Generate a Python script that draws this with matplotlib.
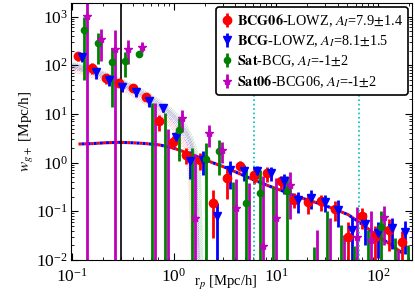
import numpy as np
import matplotlib
matplotlib.use("Agg")
import matplotlib.pyplot as plt

plt.rcParams["font.family"] = "serif"
plt.rcParams["font.serif"] = ["Liberation Serif", "DejaVu Serif"]
plt.rcParams["mathtext.fontset"] = "stix"

# bin centres [Mpc/h]
rp = [0.116, 0.158, 0.214, 0.290, 0.393, 0.532, 0.721, 0.977, 1.32, 1.80,
      2.43, 3.30, 4.47, 6.05, 8.20, 11.1, 15.1, 20.4, 27.7, 37.5,
      50.8, 68.9, 93.3, 126.5, 171.4]

# BCG06-LOWZ
w_red = [156, 87, 54, 43, 34, 22, 7.0, 2.7, 1.45, 1.14,
         0.148, 0.48, 0.86, 0.56, 0.60, 0.41, 0.174, 0.158, 0.160, 0.112,
         0.030, 0.081, 0.030, 0.042, 0.023]
e_red = [35, 22, 12, 8, 5, 4, 2.5, 0.8, 0.5, 0.45,
         0.12, 0.3, 0.2, 0.2, 0.2, 0.13, 0.06, 0.07, 0.06, 0.05,
         0.03, 0.037, 0.02, 0.027, 0.016]
# BCG-LOWZ
w_blue = [147, 71, 50, 35, 27.5, 18.8, 13.2, 3.4, 1.1, 1.15,
          0.078, 0.69, 0.66, 0.66, 0.61, 0.41, 0.17, 0.19, 0.158, 0.107,
          0.042, 0.055, 0.036, 0.045, 0.038]
e_blue = [30, 20, 13, 7, 5, 5, 2.5, 0.9, 0.65, 0.6,
          0.07, 0.4, 0.25, 0.2, 0.2, 0.18, 0.08, 0.08, 0.06, 0.06,
          0.035, 0.035, 0.025, 0.028, 0.025]
# Sat-BCG
w_green = [520, 285, 119, 122, 171, -3, -2, 4.7, -0.5, 1.2,
           1.75, -0.1, 0.148, 0.24, -0.05, 0.26, np.nan, 0.006, -0.01, -0.01,
           0.005, -0.01, 0.048, 0.008, 0.005]
e_green = [470, 180, 105, 65, 20, 20, 12.5, 3.6, 2.5, 1.3,
           1.2, 0.5, 0.6, 0.47, 0.37, 0.26, np.nan, 0.012, 0.11, 0.062,
           0.014, 0.052, 0.055, 0.02, 0.015]
# Sat06-BCG06
w_mag = [1030, 343, 214, 214, 242, -2, -1, 8.2, 0.072, 4.0,
         1.8, 0.117, -0.05, 0.019, 0.072, 0.35, np.nan, 0.005, -0.01, -0.01,
         0.030, 0.026, 0.075, 0.004, np.nan]
e_mag = [1500, 220, 320, 110, 55, 18.5, 6, 4, 1.4, 1.9,
         0.8, 0.35, 0.43, 0.5, 0.4, 0.28, np.nan, 0.037, 0.082, 0.043,
         0.09, 0.075, 0.055, 0.012, np.nan]

# small-scale model bands
rp_1h = [0.1, 0.15, 0.2, 0.3, 0.45, 0.65, 0.9, 1.1, 1.3, 1.45, 1.6, 1.75, 1.9, 2.05]
red_1h = [85, 66, 54, 37, 23, 13.5, 7, 4.2, 2.2, 0.6, 1e-3, 1e-3, 1e-3, 1e-3]
blue_1h = [97, 76, 62, 43, 28, 17, 10, 6.3, 3.8, 2.2, 1.0, 1e-3, 1e-3, 1e-3]
green_1h = [103, 82, 67, 47, 31, 19.5, 12, 8, 5, 3.2, 1.8, 0.8, 1e-3, 1e-3]
mag_1h = [100, 80, 65, 45, 30, 18.5, 11, 7, 4.4, 2.6, 1.3, 1e-3, 1e-3, 1e-3]

# large-scale model
w_2h = [2.4, 2.45, 2.55, 2.6, 2.55, 2.45, 2.3, 2.0, 1.6, 1.25,
        0.98, 0.77, 0.58, 0.44, 0.34, 0.27, 0.21, 0.17, 0.14, 0.11,
        0.085, 0.055, 0.034, 0.022, 0.014]

fig = plt.figure(figsize=(4.15, 2.97), dpi=100)
ax = fig.add_axes([0.171, 0.125, 0.822, 0.865])

for vals, col, a in [(red_1h, "r", 0.45), (blue_1h, "b", 0.45),
                     (green_1h, "g", 0.45), (mag_1h, "m", 0.25)]:
    for s, sh in zip([0.9, 0.95, 1.0, 1.05, 1.1], [0.96, 0.98, 1.0, 1.02, 1.04]):
        ax.plot(np.array(rp_1h) * sh, np.array(vals) * s, ls=":", lw=0.5,
                color=col, alpha=a)

ax.plot(rp, w_2h, ls=(0, (1, 1)), lw=2.2, color="r")
ax.plot(rp, w_2h, ls=(1, (1, 1)), lw=2.2, color="b")

rp_arr = np.array(rp)
series = [
    (w_red, e_red, 1.0, "r", "o", 6, r"$\mathbf{BCG06}$-LOWZ, $A_I$=7.9$\pm$1.4"),
    (w_blue, e_blue, 1.08, "b", "v", 6, r"$\mathbf{BCG}$-LOWZ, $A_I$=8.1$\pm$1.5"),
    (w_green, e_green, 1.145, "g", "o", 4.5, r"$\mathbf{Sat}$-BCG, $A_I$=-1$\pm$2"),
    (w_mag, e_mag, 1.226, "m", "*", 6, r"$\mathbf{Sat06}$-BCG06, $A_I$=-1$\pm$2"),
]
for w, e, off, col, mk, ms, lab in series:
    ax.errorbar(rp_arr * off, w, yerr=e, fmt=mk, color=col, ms=ms,
                elinewidth=2, capsize=0, label=lab)

ax.axvline(0.3, color="k", lw=1.2)
ax.axvline(6.1, color="c", ls=":", lw=1.2)
ax.axvline(65, color="c", ls=":", lw=1.2)

ax.set_xscale("log")
ax.set_yscale("log")
ax.set_xlim(0.098, 215)
ax.set_ylim(0.01, 1900)
ax.tick_params(which="both", direction="in", top=True, right=True, labelsize=12.5)
ax.tick_params(which="major", length=5)
ax.tick_params(which="minor", length=2.5)
ax.tick_params(axis="x", pad=6)
ax.tick_params(axis="y", pad=2)

ax.set_ylabel(r"$w_{g+}$ [Mpc/h]", fontsize=11, labelpad=0)
ax.set_xlabel(r"r$_p$ [Mpc/h]", fontsize=10.5)
ax.xaxis.set_label_coords(0.455, -0.055)

leg = ax.legend(loc="upper right", fontsize=10.3, framealpha=1, edgecolor="k",
                handlelength=0.8, handletextpad=0.3, labelspacing=0.3,
                borderaxespad=0.3, borderpad=0.35)
leg.get_frame().set_linewidth(1.2)

plt.savefig("out.png", dpi=100)
plt.close()
